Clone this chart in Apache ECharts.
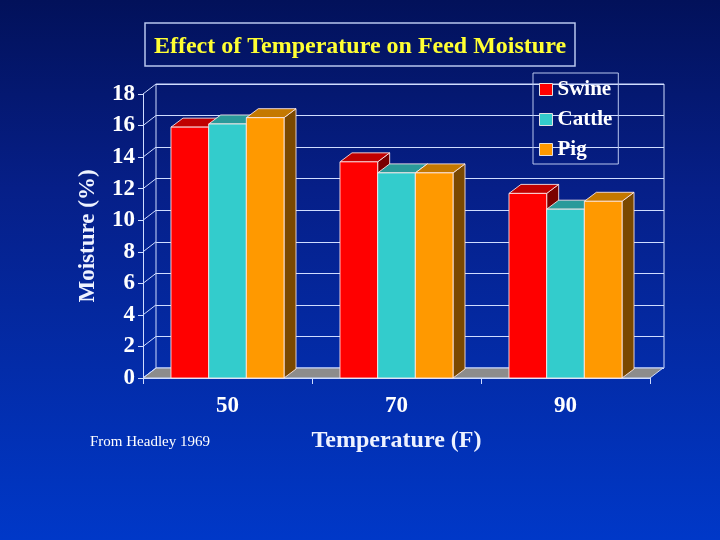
<!DOCTYPE html>
<html>
<head>
<meta charset="utf-8">
<title>Effect of Temperature on Feed Moisture</title>
<style>
  html, body { margin: 0; padding: 0; }
  #chart { width: 720px; height: 540px; }
</style>
</head>
<body>
<div id="chart"></div>
<script src="https://cdn.jsdelivr.net/npm/echarts@6/dist/echarts.min.js"></script>
<script>
// data
var categories = ['50', '70', '90'];
var swine = [15.9, 13.7, 11.7];
var cattle = [16.1, 13.0, 10.7];
var pig = [16.5, 13.0, 11.2];
var yTicks = [0, 2, 4, 6, 8, 10, 12, 14, 16, 18];

// 3d look
var DX = 13, DY = -10;      // wall depth
var BDX = 12, BDY = -9;     // bar depth
var BAR_FRAC = 0.223;       // one bar / category width
var EDGE = 'rgba(255,235,235,0.85)';
var LINE = '#cfdcff';
var FONT = 'Liberation Serif';

var chart = echarts.init(document.getElementById('chart'));

function bar3d(slot, front, top, side) {
	return function (params, api) {
		var p = api.coord([api.value(0), api.value(1)]);
		var b = api.coord([api.value(0), 0]);
		var bw = api.size([1, 0])[0] * BAR_FRAC;
		var x0 = p[0] + (slot - 1.5) * bw, x1 = x0 + bw;
		var y0 = p[1], yb = b[1];
		return {
			type: 'group',
			children: [{
				type: 'polygon',
				shape: { points: [[x1, y0], [x1 + BDX, y0 + BDY], [x1 + BDX, yb + BDY], [x1, yb]] },
				style: { fill: side, stroke: EDGE, lineWidth: 1 }
			}, {
				type: 'polygon',
				shape: { points: [[x0, y0], [x0 + BDX, y0 + BDY], [x1 + BDX, y0 + BDY], [x1, y0]] },
				style: { fill: top, stroke: EDGE, lineWidth: 1 }
			}, {
				type: 'rect',
				shape: { x: x0, y: y0, width: bw, height: yb - y0 },
				style: { fill: front, stroke: EDGE, lineWidth: 1 }
			}]
		};
	};
}

function toPairs(arr) {
	return arr.map(function (v, i) { return [i, v]; });
}

var option = {
	backgroundColor: {
		type: 'linear', x: 0, y: 0, x2: 0, y2: 1,
		colorStops: [
			{ offset: 0, color: '#02115a' },
			{ offset: 0.35, color: '#061f88' },
			{ offset: 1, color: '#0038c8' }
		]
	},
	color: ['#ff0000', '#33cccc', '#ff9900'],
	title: {
		text: 'Effect of Temperature on Feed Moisture',
		left: 'center',
		top: 30,
		textStyle: { color: '#ffff33', fontFamily: FONT, fontWeight: 'bold', fontSize: 24 }
	},
	graphic: [{
		type: 'rect',
		shape: { x: 145, y: 23, width: 430, height: 43 },
		style: { fill: 'none', stroke: '#b8c6ee', lineWidth: 1.5 }
	}, {
		type: 'text',
		left: 90, top: 435,
		style: { text: 'From Headley 1969', fill: '#ffffff', font: '15px "Liberation Serif"' }
	}],
	legend: {
		orient: 'vertical',
		left: 533, top: 73,
		padding: [6, 6, 4, 6],
		itemGap: 9,
		itemWidth: 13, itemHeight: 12,
		borderColor: '#b8c6ee', borderWidth: 1,
		itemStyle: { borderColor: '#e0e0e0', borderWidth: 1 },
		data: [
			{ name: 'Swine', icon: 'rect' },
			{ name: 'Cattle', icon: 'rect' },
			{ name: 'Pig', icon: 'rect' }
		],
		textStyle: { color: '#ffffff', fontFamily: FONT, fontWeight: 'bold', fontSize: 21 }
	},
	grid: [
		{ left: 143, top: 94, width: 507, height: 284 },
		{ left: 156, top: 84, width: 508, height: 284, show: true,
		  borderColor: LINE, borderWidth: 1, backgroundColor: 'transparent' }
	],
	xAxis: [{
		gridIndex: 0,
		type: 'category',
		data: categories,
		name: 'Temperature (F)',
		nameLocation: 'middle',
		nameGap: 51,
		nameTextStyle: { color: '#eef2ff', fontFamily: FONT, fontWeight: 'bold', fontSize: 24 },
		axisLine: { lineStyle: { color: LINE } },
		axisTick: { show: true, length: 6, lineStyle: { color: LINE } },
		axisLabel: { color: '#ffffff', fontFamily: FONT, fontWeight: 'bold', fontSize: 23, margin: 17 }
	}, {
		gridIndex: 1,
		type: 'category',
		data: categories,
		show: false
	}],
	yAxis: [{
		gridIndex: 0,
		type: 'value',
		min: 0, max: 18, interval: 2,
		name: 'Moisture (%)',
		nameLocation: 'middle',
		nameGap: 43,
		nameRotate: 90,
		nameTextStyle: { color: '#eef2ff', fontFamily: FONT, fontWeight: 'bold', fontSize: 23 },
		axisLine: { show: true, lineStyle: { color: LINE } },
		axisTick: { show: true, length: 5, lineStyle: { color: LINE } },
		axisLabel: { color: '#ffffff', fontFamily: FONT, fontWeight: 'bold', fontSize: 23, margin: 8 },
		splitLine: { show: false }
	}, {
		gridIndex: 1,
		type: 'value',
		min: 0, max: 18, interval: 2,
		axisLine: { show: false },
		axisTick: { show: false },
		axisLabel: { show: false },
		splitLine: { show: true, lineStyle: { color: LINE, width: 1 } }
	}],
	series: [{
		// floor
		type: 'custom',
		xAxisIndex: 0, yAxisIndex: 0,
		silent: true,
		data: [[0, 0]],
		renderItem: function (params, api) {
			var cs = params.coordSys;
			var y = api.coord([0, 0])[1];
			var xl = cs.x, xr = cs.x + cs.width;
			return {
				type: 'polygon',
				shape: { points: [[xl, y], [xr, y], [xr + DX, y + DY], [xl + DX, y + DY]] },
				style: { fill: '#8c8c8c', stroke: LINE, lineWidth: 1 }
			};
		}
	}, {
		// left wall lines
		type: 'custom',
		xAxisIndex: 0, yAxisIndex: 0,
		silent: true,
		data: yTicks.map(function (v) { return [0, v]; }),
		renderItem: function (params, api) {
			var cs = params.coordSys;
			var y = api.coord([0, api.value(1)])[1];
			return {
				type: 'line',
				shape: { x1: cs.x, y1: y, x2: cs.x + DX, y2: y + DY },
				style: { stroke: LINE, lineWidth: 1 }
			};
		}
	}, {
		name: 'Swine',
		type: 'custom',
		xAxisIndex: 0, yAxisIndex: 0,
		itemStyle: { color: '#ff0000' },
		data: toPairs(swine),
		renderItem: bar3d(0, '#ff0000', '#c00000', '#7a0000')
	}, {
		name: 'Cattle',
		type: 'custom',
		xAxisIndex: 0, yAxisIndex: 0,
		itemStyle: { color: '#33cccc' },
		data: toPairs(cattle),
		renderItem: bar3d(1, '#33cccc', '#2a9a9a', '#1a6666')
	}, {
		name: 'Pig',
		type: 'custom',
		xAxisIndex: 0, yAxisIndex: 0,
		itemStyle: { color: '#ff9900' },
		data: toPairs(pig),
		renderItem: bar3d(2, '#ff9900', '#c47800', '#7a4800')
	}]
};

chart.setOption(option);
</script>
</body>
</html>
